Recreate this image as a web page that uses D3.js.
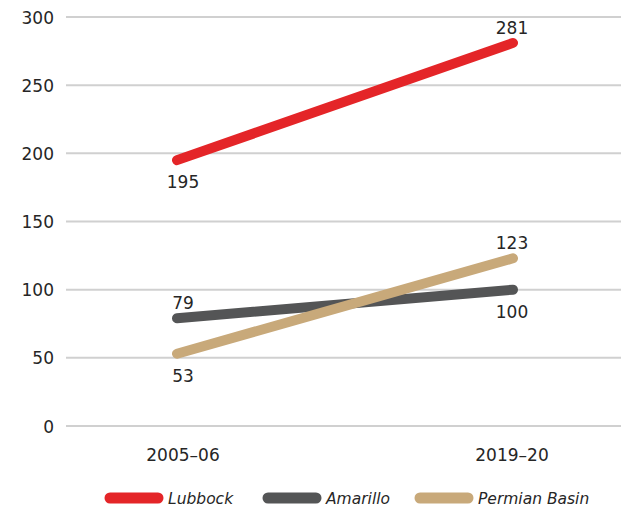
<!DOCTYPE html>
<html><head><meta charset="utf-8">
<script src="https://cdn.jsdelivr.net/npm/d3@7"></script>
<style>body{margin:0;background:#fff}svg{display:block}</style>
</head><body>
<svg id="c" width="621" height="507"></svg>
<script>
const categories = ["2005–06", "2019–20"];
const seriesNames = ["Lubbock", "Amarillo", "Permian Basin"];
const lubbock = [195, 281];
const amarillo = [79, 100];
const permian = [53, 123];
const yTicks = [0, 50, 100, 150, 200, 250, 300];
const colors = ["#e42528", "#545556", "#c8a97a"];
// label placement: -1 above, +1 below
const labelPos = [[1, -1], [-1, 1], [1, -1]];

const series = [lubbock, amarillo, permian];
const svg = d3.select("#c");
const font = "'DejaVu Sans', sans-serif";
const textCol = "#262626";
const y = d3.scaleLinear().domain([0, 300]).range([426, 17]);
const x = d3.scalePoint().domain(categories).range([177, 513]);
const labelShift = [6, -1];

// grid
svg.append("g").selectAll("line").data(yTicks).join("line")
  .attr("x1", 66).attr("x2", 621)
  .attr("y1", d => y(d)).attr("y2", d => y(d))
  .attr("stroke", "#d0d0d0").attr("stroke-width", 2);

const yAxis = d3.axisLeft(y).tickValues(yTicks).tickSize(0).tickPadding(0);
const ga = svg.append("g").attr("transform", "translate(54,0)").call(yAxis);
ga.select(".domain").remove();
ga.selectAll("text").attr("font-family", font).attr("font-size", 17).attr("fill", textCol)
  .attr("dy", "0.36em");

const xAxis = d3.axisBottom(x).tickSize(0).tickPadding(0);
const gx = svg.append("g").attr("transform", "translate(0,461)").call(xAxis);
gx.select(".domain").remove();
gx.selectAll(".tick").attr("transform", (d, i) => `translate(${x(d) + labelShift[i]},0)`);
gx.selectAll("text").attr("font-family", font).attr("font-size", 17).attr("fill", textCol)
  .attr("dy", 0).attr("y", 0);

const line = d3.line().x((d, i) => x(categories[i])).y(d => y(d));
series.forEach((s, k) => {
  svg.append("path").attr("d", line(s)).attr("fill", "none")
    .attr("stroke", colors[k]).attr("stroke-width", 10).attr("stroke-linecap", "round");
});
series.forEach((s, k) => {
  s.forEach((v, i) => {
    const p = labelPos[k][i];
    svg.append("text").attr("x", x(categories[i]) + labelShift[i])
      .attr("y", y(v) + (p > 0 ? 28 : -9))
      .attr("text-anchor", "middle")
      .attr("font-family", font).attr("font-size", 17).attr("fill", textCol)
      .text(v);
  });
});

// legend
const legX = [110, 268, 420];
seriesNames.forEach((n, k) => {
  svg.append("line").attr("x1", legX[k]).attr("x2", legX[k] + 48)
    .attr("y1", 498).attr("y2", 498)
    .attr("stroke", colors[k]).attr("stroke-width", 11).attr("stroke-linecap", "round");
  svg.append("text").attr("x", legX[k] + 58).attr("y", 504)
    .attr("font-family", font).attr("font-size", 15.5).attr("font-style", "italic")
    .attr("fill", textCol).text(n);
});
</script>
</body></html>
